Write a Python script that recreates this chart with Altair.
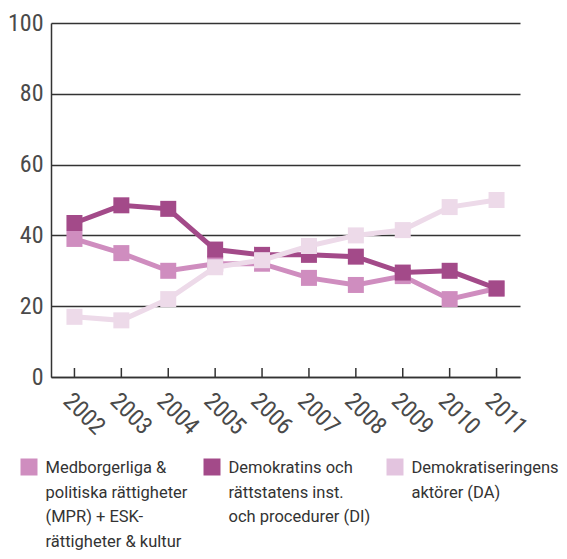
import altair as alt
import pandas as pd

years = ["2002", "2003", "2004", "2005", "2006", "2007", "2008", "2009", "2010", "2011"]
series = ["MPR", "DI", "DA"]
mpr = [39, 35, 30, 32, 32, 28, 26, 28.5, 22, 25]
di = [43.5, 48.5, 47.5, 36, 34.5, 34.5, 34, 29.5, 30, 25]
da = [17, 16, 22, 31, 33, 37, 40, 41.5, 48, 50]
colors = ["#CF8DBF", "#A34A89", "#EDDAE9"]
legend_colors = ["#CF8DBF", "#A34A89", "#E3C4DF"]
legend_labels = [
    "Medborgerliga &\npolitiska rättigheter\n(MPR) + ESK-\nrättigheter & kultur",
    "Demokratins och\nrättstatens inst.\noch procedurer (DI)",
    "Demokratiseringens\naktörer (DA)",
]
y_ticks = [0, 20, 40, 60, 80, 100]

AXIS_FONT = "Liberation Sans Narrow, Roboto Condensed, DejaVu Sans Condensed, sans-serif"
TEXT_FONT = "Roboto, sans-serif"
INK = "#333333"
LABEL_INK = "#4a4a4a"

values = {"MPR": mpr, "DI": di, "DA": da}
rows = []
for s in series:
    for yr, v in zip(years, values[s]):
        rows.append({"year": yr, "series": s, "value": v})
df = pd.DataFrame(rows)

x_enc = alt.X(
    "year:O",
    scale=alt.Scale(type="point", padding=0.5, domain=years),
    axis=alt.Axis(
        title=None, labelAngle=45, labelAlign="left", labelBaseline="middle",
        labelFont=AXIS_FONT, labelFontSize=24, labelColor=LABEL_INK,
        labelPadding=20, labelOffset=-8, ticks=False,
        domainColor=INK, domainWidth=1.5, grid=False,
    ),
)
y_enc = alt.Y(
    "value:Q",
    scale=alt.Scale(domain=[0, 100], nice=False),
    axis=alt.Axis(
        title=None, values=y_ticks, labelFont=AXIS_FONT, labelFontSize=24,
        labelColor=LABEL_INK, labelPadding=8, ticks=False, domainColor=INK,
        domainWidth=1.5, grid=True, gridColor=INK, gridWidth=1.5,
    ),
)
color_enc = alt.Color("series:N", scale=alt.Scale(domain=series, range=colors), legend=None)

layers = []
for s in series:
    base = alt.Chart(df).transform_filter(alt.datum.series == s)
    layers.append(base.mark_line(strokeWidth=5).encode(x=x_enc, y=y_enc, color=color_enc))
    layers.append(
        base.mark_point(shape="square", filled=True, size=256, opacity=1).encode(
            x=x_enc, y=y_enc, color=color_enc
        )
    )

ticks_df = pd.DataFrame({"year": years})
tick_layer = alt.Chart(ticks_df).mark_rule(color=INK, strokeWidth=1.5).encode(
    x=alt.X("year:O", scale=alt.Scale(type="point", padding=0.5, domain=years)),
    y=alt.value(354),
    y2=alt.value(345),
)

main = alt.layer(*layers, tick_layer)

leg_df = pd.DataFrame({"series": series, "label": legend_labels})
leg_x = alt.X("series:N", scale=alt.Scale(type="point", domain=series, range=[-22, 344], padding=0), axis=None)
leg_sq = alt.Chart(leg_df).mark_square(size=289, opacity=1).encode(
    x=leg_x, y=alt.value(444),
    color=alt.Color("series:N", scale=alt.Scale(domain=series, range=legend_colors), legend=None),
)
leg_txt = alt.Chart(leg_df).mark_text(
    align="left", baseline="alphabetic", dx=16.5, lineBreak="\n", lineHeight=24.5,
    font=TEXT_FONT, fontSize=16.5, color=INK,
).encode(x=leg_x, y=alt.value(450), text="label:N")
legend = alt.layer(leg_sq, leg_txt)

chart = (
    alt.layer(main, legend)
    .resolve_scale(x="independent", y="independent", color="independent")
    .properties(
        width=469, height=354,
        autosize=alt.AutoSizeParams(type="none"),
        padding={"left": 43, "top": 15, "right": 39, "bottom": 174},
    )
    .configure_view(stroke=None)
)

chart.save("out.html", embed_options={"renderer": "svg", "actions": False})
